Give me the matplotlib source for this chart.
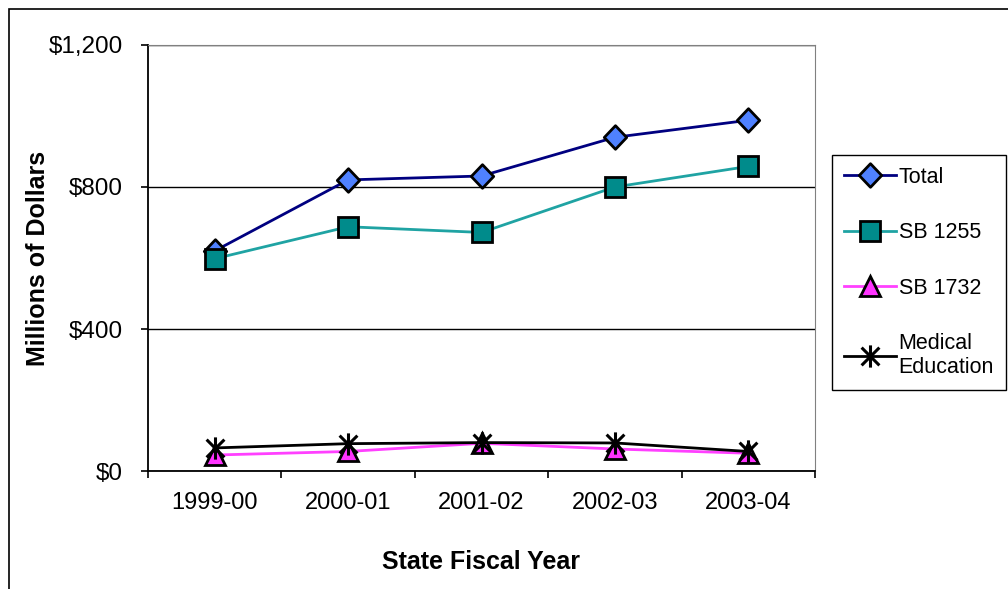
import matplotlib.pyplot as plt
import matplotlib as mpl
import numpy as np
from matplotlib.path import Path
from matplotlib.patches import Rectangle

mpl.rcParams['font.family'] = ['Liberation Sans', 'DejaVu Sans']

years = ['1999-00', '2000-01', '2001-02', '2002-03', '2003-04']
total = [620, 820, 831, 940, 988]
sb1255 = [598, 688, 672, 800, 858]
sb1732 = [45, 55, 78, 62, 50]
med_edu = [65, 77, 80, 79, 55]

# diamond and excel-style asterisk markers
diamond = Path([(0, 1), (0.95, 0), (0, -1), (-0.95, 0), (0, 1)],
               [Path.MOVETO, Path.LINETO, Path.LINETO, Path.LINETO, Path.CLOSEPOLY])
star = Path([(0, -1), (0, 1), (-0.8, -0.8), (0.8, 0.8), (-0.8, 0.8), (0.8, -0.8)],
            [Path.MOVETO, Path.LINETO, Path.MOVETO, Path.LINETO, Path.MOVETO, Path.LINETO])

fig = plt.figure(figsize=(10.08, 5.89), dpi=100)
fig.patches.append(Rectangle((9 / 1008, -0.05), 1.1, 1 - 9 / 589 + 0.05, transform=fig.transFigure,
                             fill=False, edgecolor='black', linewidth=1.2))

ax = fig.add_axes([148 / 1008, 118 / 589, 667 / 1008, 426 / 589])
x = np.arange(len(years))

ax.plot(x, total, color='#000080', linewidth=2, marker=diamond, markersize=17,
        markerfacecolor='#4F81FF', markeredgecolor='black', markeredgewidth=2, label='Total')
ax.plot(x, sb1255, color='#1FA3A3', linewidth=2, marker='s', markersize=14,
        markerfacecolor='#008B8B', markeredgecolor='black', markeredgewidth=2, label='SB 1255')
ax.plot(x, sb1732, color='#FF40FF', linewidth=2, marker='^', markersize=14,
        markerfacecolor='#FF33FF', markeredgecolor='black', markeredgewidth=2, label='SB 1732')
ax.plot(x, med_edu, color='black', linewidth=2, marker=star, markersize=16,
        markeredgecolor='black', markeredgewidth=2.2, label='Medical\nEducation')

ax.set_xlim(-0.5, len(years) - 0.5)
ax.set_ylim(0, 1200)
ax.set_yticks([0, 400, 800, 1200])
ax.set_yticklabels(['$0', '$400', '$800', '$1,200'])
ax.grid(axis='y', color='black', linewidth=1)
ax.set_xticks(x)
ax.set_xticklabels(years)
ax.set_xticks(np.arange(-0.5, len(years)), minor=True)
ax.tick_params(axis='x', which='major', length=0, pad=15, labelsize=17)
ax.tick_params(axis='x', which='minor', length=5, width=1.2, direction='out')
ax.tick_params(axis='y', length=5, width=1.2, direction='out', pad=13, labelsize=17.5)

for side in ['top', 'right']:
    ax.spines[side].set_color('#808080')
for side in ['left', 'bottom']:
    ax.spines[side].set_linewidth(1.3)

ax.set_xlabel('State Fiscal Year', fontsize=18, fontweight='bold', labelpad=26)
ax.set_ylabel('Millions of Dollars', fontsize=18, fontweight='bold')
ax.yaxis.set_label_coords(-98 / 667, 0.5)

leg = fig.legend(loc='upper left', bbox_to_anchor=(832 / 1008, 1 - 155 / 589), fontsize=15.5,
                 frameon=True, fancybox=False, edgecolor='black', framealpha=1,
                 labelspacing=1.6, handlelength=2.4, handletextpad=0.15, borderpad=0.55,
                 borderaxespad=0)
leg.get_frame().set_linewidth(1)

fig.savefig('out.png', dpi=100)
